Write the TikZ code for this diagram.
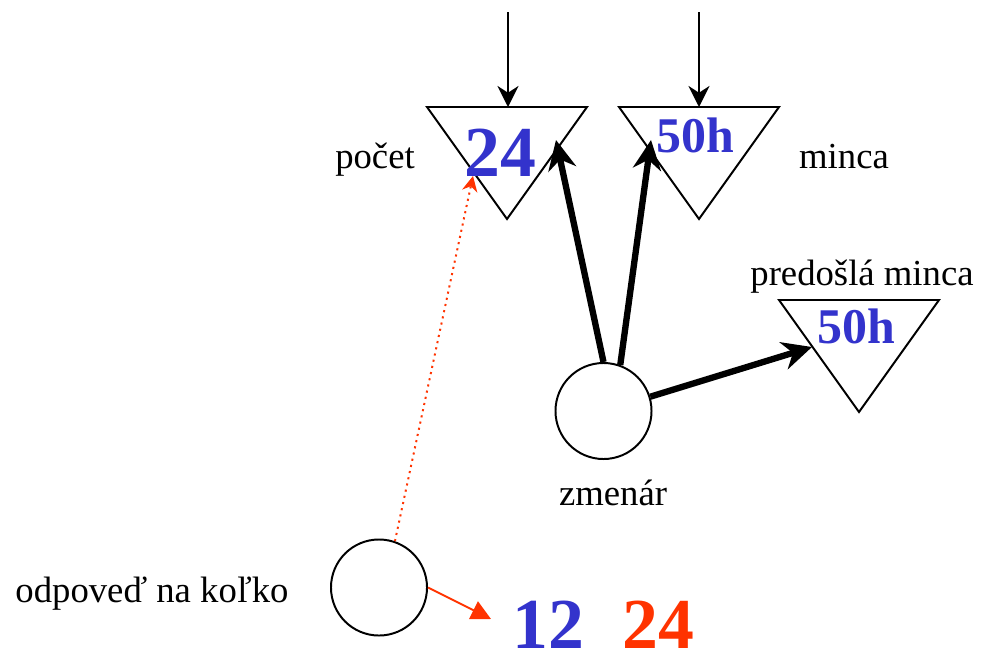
\documentclass[tikz,border=0pt]{standalone}
\usepackage{fontspec}
\setmainfont{Liberation Serif}
\usetikzlibrary{
	arrows.meta,
	calc
}
\definecolor{numblue}{HTML}{3333CC}
\definecolor{numred}{HTML}{FF3300}

\begin{document}
\begin{tikzpicture}[x=0.025cm,y=-0.025cm,
		tri/.style={draw,line width=1.4pt,line join=miter},
		pool/.style={draw,circle,line width=1.4pt,minimum size=2.4cm,inner sep=0pt},
		lbl/.style={font=\fontsize{26.1}{30}\selectfont,anchor=base,inner sep=0pt},
		bignum/.style={font=\fontsize{51}{60}\selectfont\bfseries,anchor=base,inner sep=0pt,text=numblue},
		coin/.style={font=\fontsize{35.5}{42}\selectfont\bfseries,anchor=base,inner sep=0pt,text=numblue},
		feed/.style={line width=1.4pt,-{Stealth[length=15pt,width=15pt]}},
		move/.style={line width=4.5pt,-{Stealth[length=21pt,width=20pt]}},
		answer/.style={numred,line width=1.4pt}
	]
		\useasboundingbox (0,0) rectangle (982,654);
		
		%---------------- zasobniky ----------------%
		
		\draw[tri] (427,107) -- (587,107) -- (507,219) -- cycle;
		\draw[tri] (619,107) -- (779,107) -- (699,219) -- cycle;
		\draw[tri] (779,300) -- (939,300) -- (859,412) -- cycle;
		
		\node[bignum] (pocet) at (500,176) {24};
		\node[coin] (minca) at (695,152) {50h};
		\node[coin] (predosla) at (856,343) {50h};
		
		\node[lbl] (pocet-lbl) at (375,168) {počet};
		\node[lbl] (minca-lbl) at (844,168) {minca};
		\node[lbl] (predosla-lbl) at (862,285) {predošlá minca};
		
		\coordinate (pocet-src) at (508,12);
		\coordinate (pocet-top) at (508,107);
		\coordinate (minca-src) at (699,12);
		\coordinate (minca-top) at (699,107);
		
		\draw[feed] (pocet-src) -- (pocet-top);
		\draw[feed] (minca-src) -- (minca-top);
		
		%---------------- zmenar ----------------%
		
		\node[pool] (zmenar) at (603.5,411) {};
		\node[lbl] (zmenar-lbl) at (613,505) {zmenár};
		
		\coordinate (pocet-hit) at (556,140);
		\coordinate (minca-hit) at (651,140);
		\coordinate (predosla-hit) at (812,347);
		
		\draw[move] (zmenar.90) -- (pocet-hit);
		\draw[move] (zmenar.70) -- (minca-hit);
		\draw[move] (zmenar.17) -- (predosla-hit);
		
		%---------------- odpoved ----------------%
		
		\node[pool] (odpoved) at (379,587.5) {};
		\node[lbl] (odpoved-lbl) at (152,602) {odpoveď na koľko};
		
		\node[bignum] (odp-a) at (548,648) {12};
		\node[bignum,text=numred] (odp-b) at (658,648) {24};
		
		\coordinate (pocet-ans) at (473,176);
		\coordinate (odp-tip) at (491,619);
		
		\draw[answer,dash pattern=on 1.5pt off 3pt,-{Stealth[length=11pt,width=11pt]}] (odpoved.71) -- (pocet-ans);
		\draw[answer,-{Triangle[length=14pt,width=14pt]}] (odpoved.0) -- (odp-tip);
		
	\end{tikzpicture}
\end{document}
